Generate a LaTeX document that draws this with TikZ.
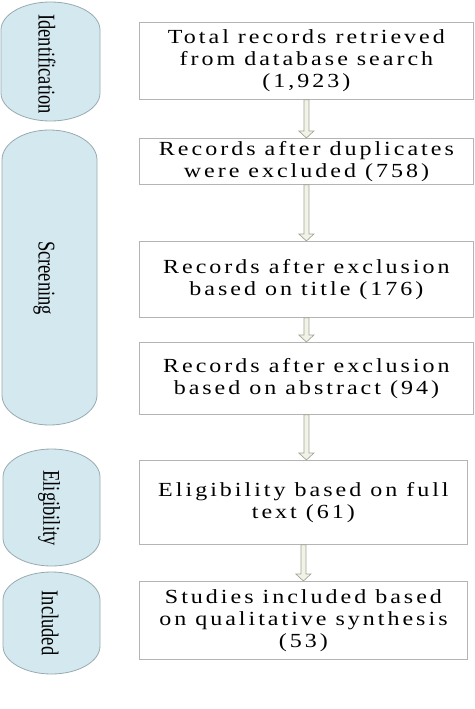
\documentclass[tikz,border=0pt]{standalone}
\usepackage{fontspec}
\setmainfont{Liberation Serif}
\newfontfamily\boxfont[FakeStretch=1.2, LetterSpace=15]{Liberation Serif}
\usetikzlibrary{calc}
\definecolor{pillfill}{HTML}{D3E8EF}
\definecolor{pillline}{HTML}{98AAB0}
\definecolor{boxline}{HTML}{B4B4B4}
\definecolor{arrfill}{HTML}{F1F2E8}
\definecolor{arrline}{HTML}{A3A694}
\tikzset{
  flowbox/.style={draw=boxline, line width=0.8pt, fill=white, anchor=north west, inner sep=0pt,
    align=center, font=\boxfont\fontsize{20}{22}\selectfont, text=black},
  pillshape/.style={draw=pillline, line width=0.8pt, fill=pillfill},
  phaselabel/.style={rotate=-90, font=\fontsize{18.5}{22}\selectfont, inner sep=0pt},
  arrowshape/.style={draw=arrline, line width=0.7pt, fill=arrfill, line join=miter}
}
\newcommand\pillpath[5]{%
  \path[pillshape] (#1,#3+#5) arc[start angle=180,end angle=0,x radius={(#2-#1)/2*1pt},y radius=#5pt]
    -- (#2,#4-#5) arc[start angle=0,end angle=-180,x radius={(#2-#1)/2*1pt},y radius=#5pt] -- cycle;}
\newcommand\flowarrow[2]{%
  \path[arrowshape] ($(#1.south)+(-2.5,0)$) -- ($(#1.south|-#2.north)+(-2.5,-7)$) -- ++(-5,0)
    -- (#1.south|-#2.north) -- ($(#1.south|-#2.north)+(7.5,-7)$) -- ++(-5,0)
    -- ($(#1.south)+(2.5,0)$) -- cycle;}
\newcommand\tall[1]{\scalebox{1}[1.3]{#1}}
\begin{document}
\begin{tikzpicture}[x=1pt,y=-1pt]
\useasboundingbox[fill=white] (0,0) rectangle (474,709);
% phase pills
\pillpath{1}{100}{2}{121}{28}
\pillpath{2}{97}{130}{425}{30}
\pillpath{3}{100}{449}{566}{28}
\pillpath{3}{100}{572}{674}{28}
\node[phaselabel] (p1) at (47,64) {\tall{Identification}};
\node[phaselabel] (p2) at (44,278) {\tall{Screening}};
\node[phaselabel] (p3) at (49,508) {\tall{Eligibility}};
\node[phaselabel] (p4) at (50,623) {\tall{Included}};
% boxes
\node[flowbox, minimum width=334pt, minimum height=77pt] (b1) at (139,22)
  {Total records retrieved\\from database search\\(1,923)};
\node[flowbox, minimum width=334pt, minimum height=46pt] (b2) at (139,138)
  {Records after duplicates\\were excluded (758)};
\node[flowbox, minimum width=334pt, minimum height=76pt] (b3) at (139,241)
  {Records after exclusion\\based on title (176)};
\node[flowbox, minimum width=334pt, minimum height=72pt] (b4) at (139,342)
  {Records after exclusion\\based on abstract (94)};
\node[flowbox, minimum width=328pt, minimum height=84pt] (b5) at (139,460)
  {Eligibility based on full\\text (61)};
\node[flowbox, minimum width=328pt, minimum height=78pt] (b6) at (139,581)
  {Studies included based\\on qualitative synthesis\\(53)};
% arrows
\flowarrow{b1}{b2}
\flowarrow{b2}{b3}
\flowarrow{b3}{b4}
\flowarrow{b4}{b5}
\flowarrow{b5}{b6}
\end{tikzpicture}
\end{document}
